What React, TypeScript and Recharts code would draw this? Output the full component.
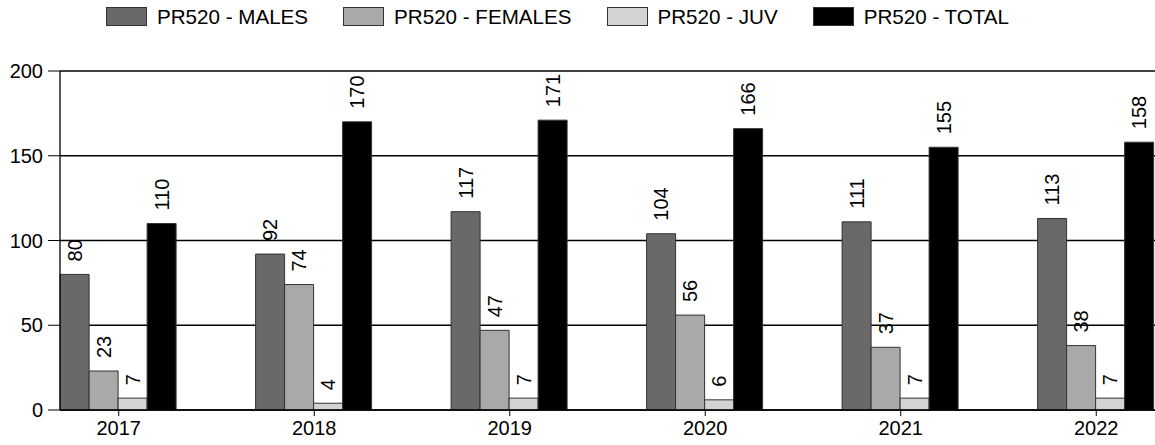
import React from "react";
import { BarChart, Bar, XAxis, YAxis, CartesianGrid, LabelList } from "recharts";

const years = ["2017", "2018", "2019", "2020", "2021", "2022"];
const males = [80, 92, 117, 104, 111, 113];
const females = [23, 74, 47, 56, 37, 38];
const juv = [7, 4, 7, 6, 7, 7];
const total = [110, 170, 171, 166, 155, 158];
const yTicks = [0, 50, 100, 150, 200];

const series = [
  { key: "males", name: "PR520 - MALES", color: "#696969" },
  { key: "females", name: "PR520 - FEMALES", color: "#a9a9a9" },
  { key: "juv", name: "PR520 - JUV", color: "#d3d3d3" },
  { key: "total", name: "PR520 - TOTAL", color: "#000000" },
];

const FONT = '"Liberation Sans", Arial, sans-serif';

const data = years.map((year, i) => ({
  year,
  males: males[i],
  females: females[i],
  juv: juv[i],
  total: total[i],
}));

function ValueLabel(props: any) {
  const { x, y, width, value } = props;
  const cx = x + width / 2;
  const ty = y - 13;
  return (
    <text
      x={cx}
      y={ty}
      transform={`rotate(-90, ${cx}, ${ty})`}
      textAnchor="start"
      dominantBaseline="central"
      fontSize={20}
      fontFamily={FONT}
      fill="#000"
    >
      {value}
    </text>
  );
}

function Legend() {
  return (
    <div
      style={{
        position: "absolute",
        top: 7,
        left: 106,
        display: "flex",
        alignItems: "center",
        fontFamily: FONT,
        fontSize: 20.6,
        color: "#000",
        height: 19,
      }}
    >
      {series.map((s) => (
        <div key={s.key} style={{ display: "flex", alignItems: "center", marginRight: 35 }}>
          <div
            style={{
              width: 41,
              height: 19,
              boxSizing: "border-box",
              background: s.color,
              border: "1.5px solid #333",
              marginRight: 10,
            }}
          />
          <span style={{ lineHeight: "19px", whiteSpace: "nowrap" }}>{s.name}</span>
        </div>
      ))}
    </div>
  );
}

export default function App() {
  return (
    <div
      style={{
        position: "absolute",
        top: 0,
        left: 0,
        width: 1155,
        height: 445,
        overflow: "hidden",
        background: "#fff",
      }}
    >
      <Legend />
      <BarChart
        width={1155}
        height={445}
        data={data}
        margin={{ top: 71, right: 0, left: 0, bottom: 0 }}
        barCategoryGap="20%"
        barGap={0}
      >
        <CartesianGrid vertical={false} stroke="#000" strokeWidth={1.3} />
        <XAxis
          dataKey="year"
          height={35}
          padding={{ left: -39, right: -39 }}
          tickSize={6}
          tickMargin={5}
          axisLine={{ stroke: "#000", strokeWidth: 1.3 }}
          tickLine={{ stroke: "#000" }}
          tick={{ fill: "#000", fontSize: 20, fontFamily: FONT }}
          interval={0}
        />
        <YAxis
          width={60}
          domain={[0, 200]}
          ticks={yTicks}
          tickSize={12}
          tickMargin={5}
          axisLine={{ stroke: "#000", strokeWidth: 1.3 }}
          tickLine={{ stroke: "#000" }}
          tick={{ fill: "#000", fontSize: 20, fontFamily: FONT }}
        />
        {series.map((s) => (
          <Bar
            key={s.key}
            dataKey={s.key}
            name={s.name}
            fill={s.color}
            stroke="#333"
            strokeWidth={1}
            isAnimationActive={false}
          >
            <LabelList dataKey={s.key} content={<ValueLabel />} />
          </Bar>
        ))}
      </BarChart>
    </div>
  );
}
